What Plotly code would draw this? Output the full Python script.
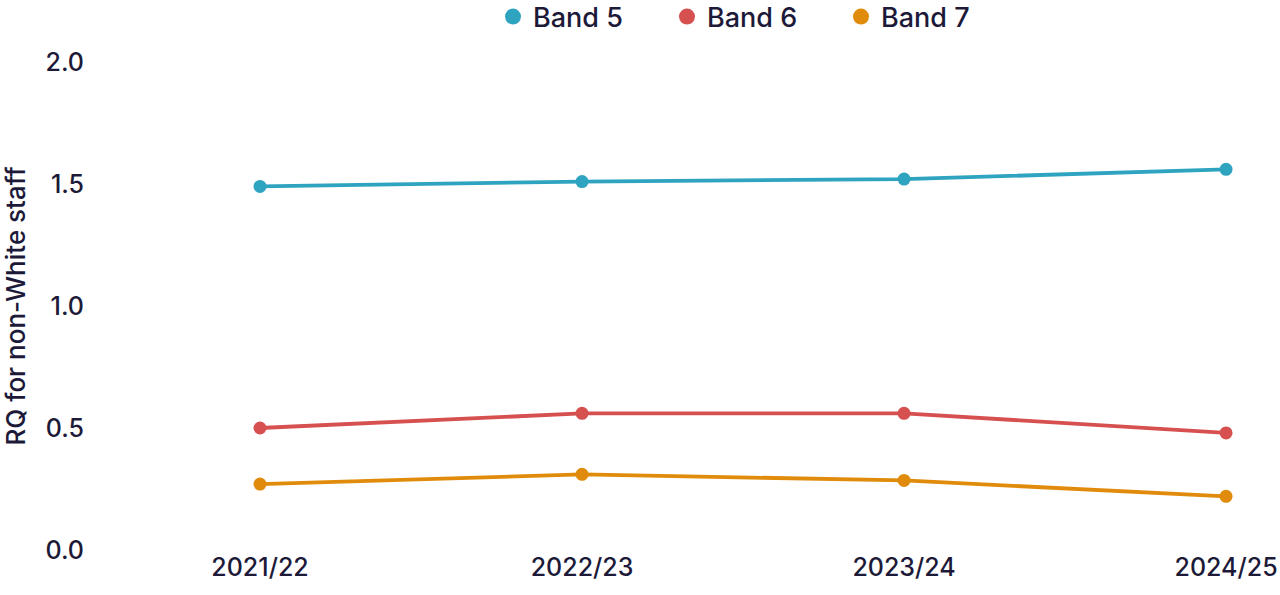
import plotly.graph_objects as go

years = ["2021/22", "2022/23", "2023/24", "2024/25"]
band5 = [1.49, 1.51, 1.52, 1.56]
band6 = [0.50, 0.56, 0.56, 0.48]
band7 = [0.27, 0.31, 0.285, 0.22]
series_names = ["Band 5", "Band 6", "Band 7"]
colors = ["#2fa4c1", "#d65050", "#e08b0b"]
y_ticks = [0.0, 0.5, 1.0, 1.5, 2.0]
y_title = "RQ for non-White staff"

FONT = "Inter"
TEXT = "#1c1a38"

fig = go.Figure()
for name, vals, col in zip(series_names, [band5, band6, band7], colors):
    fig.add_trace(go.Scatter(
        x=years, y=vals, mode="lines+markers", name=name,
        line=dict(color=col, width=3.8),
        marker=dict(color=col, size=13),
        showlegend=False,
    ))
for name, col in zip(series_names, colors):
    fig.add_trace(go.Scatter(
        x=[None], y=[None], mode="markers", name=name,
        marker=dict(color=col, size=24),
        showlegend=True,
    ))

fig.update_layout(
    width=1280, height=595,
    paper_bgcolor="white", plot_bgcolor="white",
    margin=dict(l=85, r=5, t=62, b=45),
    font=dict(family=FONT, color=TEXT, size=25, weight=500),
    legend=dict(
        orientation="h", x=(493 - 85) / 1190, xanchor="left",
        yref="container", y=1 - 17 / 595, yanchor="middle",
        font=dict(size=27, color=TEXT, weight=500),
        itemwidth=30, entrywidth=129, entrywidthmode="pixels",
        tracegroupgap=0, borderwidth=0,
    ),
    xaxis=dict(
        type="category", range=[-0.5435, 3.152], automargin=False,
        showgrid=False, zeroline=False, showline=False, ticks="",
        tickfont=dict(size=25, color=TEXT, weight=500),
    ),
    yaxis=dict(
        range=[0, 2], tickvals=y_ticks, ticktext=[f"{v:.1f}" for v in y_ticks],
        automargin=False,
        showgrid=False, zeroline=False, showline=False, ticks="",
        tickfont=dict(size=25, color=TEXT, weight=500),
        title=dict(text=y_title, font=dict(size=26, color=TEXT, weight=500)),
    ),
)

fig.write_html("out.html", config={"displayModeBar": False},
               post_script="document.body.style.margin='0';")
